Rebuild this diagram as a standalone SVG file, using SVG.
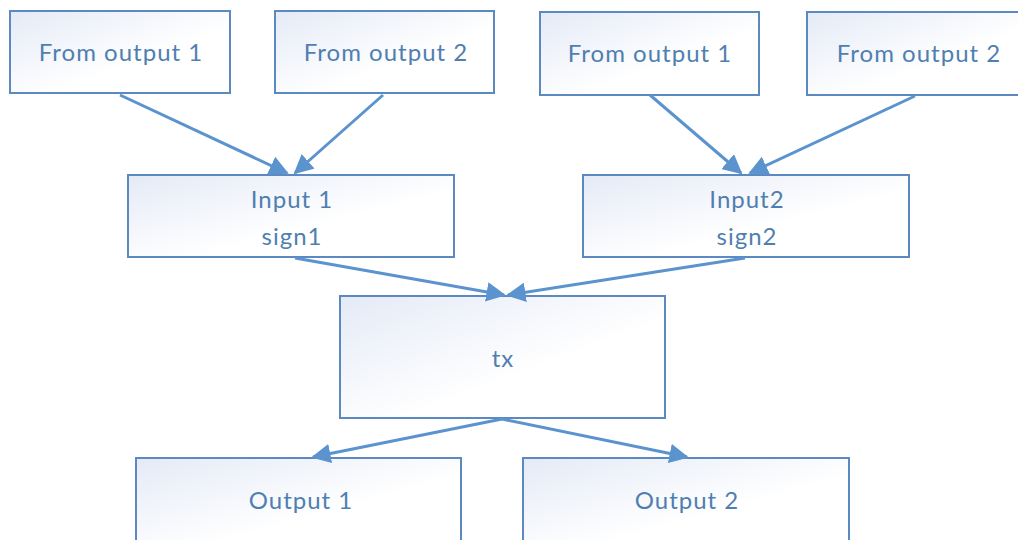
<svg xmlns="http://www.w3.org/2000/svg" width="1018" height="540" viewBox="0 0 1018 540">
<defs>
<linearGradient id="g" x1="0" y1="0" x2="1" y2="1">
<stop offset="0" stop-color="#e4eaf6"/>
<stop offset="0.6" stop-color="#ffffff"/>
<stop offset="1" stop-color="#ffffff"/>
</linearGradient>
<marker id="ah" viewBox="0 0 10 10" refX="9" refY="5" markerWidth="6.5" markerHeight="6.5" markerUnits="strokeWidth" orient="auto">
<path d="M0,0 L10,5 L0,10 z" fill="#5b93cf"/>
</marker>
<style>
.box{fill:url(#g);stroke:#5c8ac0;stroke-width:2}
.t{font-family:Lato,"Noto Sans",sans-serif;font-size:24px;letter-spacing:1px;fill:#4f7fb0;text-anchor:middle}
.c{stroke:#5b93cf;stroke-width:3;fill:none;marker-end:url(#ah)}
</style>
</defs>
<rect width="1018" height="540" fill="#ffffff"/>
<g id="from1a"><rect class="box" x="10" y="11" width="220" height="82"/><text class="t" x="121" y="61">From output 1</text></g>
<g id="from2a"><rect class="box" x="275" y="11" width="219" height="82"/><text class="t" x="386" y="61">From output 2</text></g>
<g id="from1b"><rect class="box" x="540" y="12" width="219" height="83"/><text class="t" x="650" y="62">From output 1</text></g>
<g id="from2b"><rect class="box" x="807" y="12" width="220" height="83"/><text class="t" x="919" y="62">From output 2</text></g>
<g id="input1"><rect class="box" x="128" y="175" width="326" height="82"/><text class="t" x="292" y="208">Input 1</text><text class="t" x="292" y="245">sign1</text></g>
<g id="input2"><rect class="box" x="583" y="175" width="326" height="82"/><text class="t" x="747" y="208">Input2</text><text class="t" x="747" y="245">sign2</text></g>
<g id="tx"><rect class="box" x="340" y="296" width="325" height="122"/><text class="t" x="503" y="367">tx</text></g>
<g id="out1"><rect class="box" x="136" y="458" width="325" height="90"/><text class="t" x="301" y="509">Output 1</text></g>
<g id="out2"><rect class="box" x="523" y="458" width="326" height="90"/><text class="t" x="687" y="509">Output 2</text></g>
<g id="connectors">
<line class="c" x1="120" y1="95" x2="287" y2="173"/>
<line class="c" x1="383" y1="95" x2="295" y2="173"/>
<line class="c" x1="650" y1="95" x2="741" y2="173"/>
<line class="c" x1="915" y1="96" x2="750" y2="173"/>
<line class="c" x1="295" y1="258" x2="504" y2="295"/>
<line class="c" x1="745" y1="258" x2="508" y2="295"/>
<line class="c" x1="502" y1="419" x2="313" y2="457"/>
<line class="c" x1="502" y1="419" x2="687" y2="457"/>
</g>
</svg>
